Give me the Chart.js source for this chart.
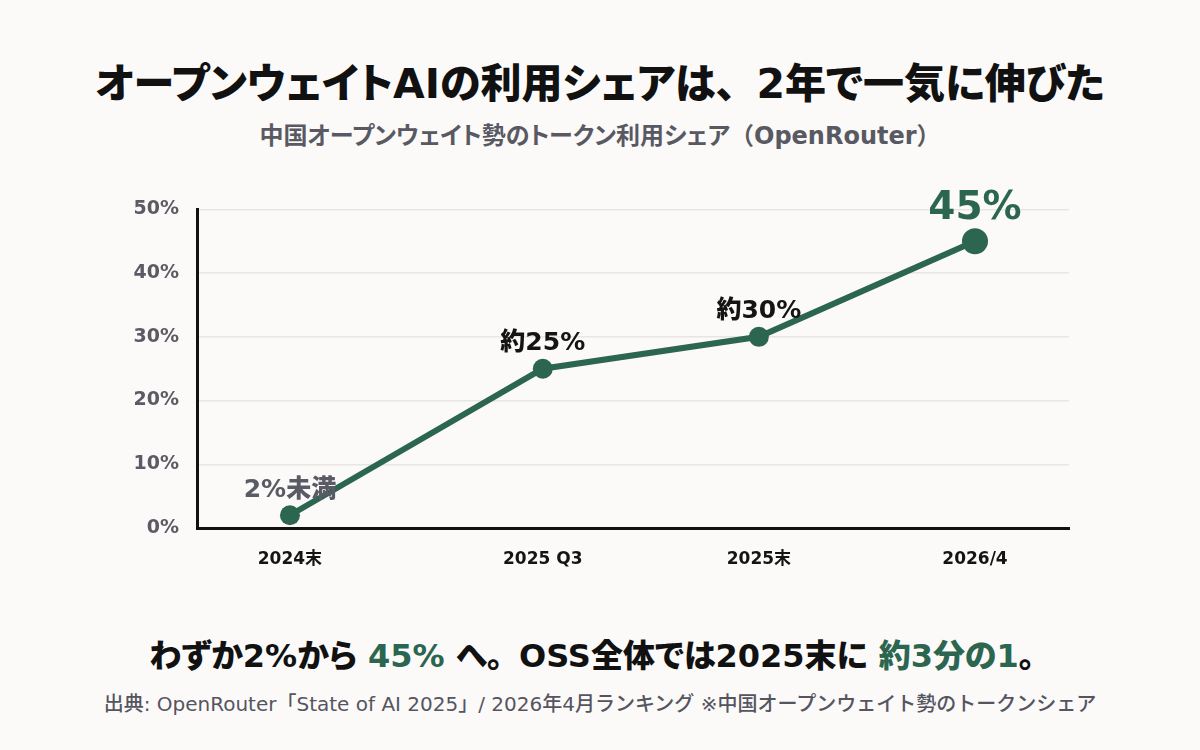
<!DOCTYPE html>
<html lang="ja">
<head>
<meta charset="utf-8">
<script src="https://cdn.jsdelivr.net/npm/chart.js@4"></script>
<style>
  html, body { margin:0; padding:0; background:#fbfaf8; }
  body { width:1200px; height:750px; position:relative; overflow:hidden;
         font-family:"DejaVu Sans","Noto Sans CJK JP",sans-serif;
         font-feature-settings:"palt"; }
  .t { position:absolute; left:0; width:1200px; text-align:center; white-space:nowrap; }
  .fw { font-feature-settings:normal; }
  #title { top:50px; font-size:41px; font-weight:900; color:#111; }
  #sub { top:116px; font-size:24px; font-weight:700; color:#595963; }
  #msg { top:630px; font-size:32px; font-weight:900; color:#111; }
  #msg .g { color:#2c6650; }
  #src { top:688px; font-size:20px; font-weight:500; color:#55555f; font-feature-settings:normal; }
  #wrap { position:absolute; left:0; top:180px; width:1200px; height:400px; }
</style>
</head>
<body>
<div class="t" id="title">オープンウェイトAIの利用シェアは<span class="fw">、</span>2年で一気に伸びた</div>
<div class="t" id="sub">中国オープンウェイト勢のトークン利用シェア<span class="fw">（</span>OpenRouter<span class="fw">）</span></div>
<div id="wrap"><canvas id="c"></canvas></div>
<div class="t" id="msg">わずか2%から <span class="g">45%</span> へ<span class="fw">。</span>OSS全体では2025末に <span class="g">約3分の1</span><span class="fw">。</span></div>
<div class="t" id="src">出典: OpenRouter「State of AI 2025」/ 2026年4月ランキング ※中国オープンウェイト勢のトークンシェア</div>
<script>
const categories = ["2024末", "2025 Q3", "2025末", "2026/4"];
const timeline = [0, 1.17, 2.17, 3.17];
const shareValues = [2, 25, 30, 45];
const pointLabels = ["2%未満", "約25%", "約30%", "45%"];
const yTicks = [0, 10, 20, 30, 40, 50];

const GREEN = "#2c6650";
const FONT = "'DejaVu Sans','Noto Sans CJK JP',sans-serif";

const labelPlugin = {
  id: "pointLabels",
  afterDatasetsDraw(chart) {
    const ctx = chart.ctx;
    const meta = chart.getDatasetMeta(0);
    ctx.save();
    ctx.textAlign = "center";
    ctx.textBaseline = "middle";
    meta.data.forEach((pt, i) => {
      const last = i === pointLabels.length - 1;
      const first = i === 0;
      if (last) {
        ctx.font = "900 39px " + FONT;
        ctx.fillStyle = GREEN;
        ctx.fillText(pointLabels[i], pt.x, pt.y - 32);
      } else {
        ctx.font = "900 25px " + FONT;
        ctx.fillStyle = first ? "#5b5b66" : "#141414";
        ctx.fillText(pointLabels[i], pt.x, pt.y - 25);
      }
    });
    ctx.restore();
  }
};

new Chart(document.getElementById("c"), {
  type: "line",
  data: {
    datasets: [{
      data: timeline.map((x, i) => ({ x: x, y: shareValues[i] })),
      borderColor: GREEN,
      backgroundColor: GREEN,
      borderWidth: 6,
      pointRadius: shareValues.map((v, i) => i === shareValues.length - 1 ? 13 : 10),
      pointBackgroundColor: GREEN,
      pointBorderWidth: 0,
      tension: 0
    }]
  },
  options: {
    responsive: true,
    maintainAspectRatio: false,
    animation: false,
    layout: { padding: { left: 0, right: 131, top: 29, bottom: 0 } },
    plugins: { legend: { display: false }, tooltip: { enabled: false } },
    scales: {
      x: {
        type: "linear",
        min: -0.43,
        max: 3.605,
        afterBuildTicks(scale) { scale.ticks = timeline.map(v => ({ value: v })); },
        afterFit(scale) { scale.height = 52; },
        grid: { display: false },
        border: { display: true, color: "#111", width: 3 },
        ticks: {
          padding: 13,
          color: "#141414",
          font: { family: FONT, size: 17, weight: "700" },
          callback(v) { const i = timeline.indexOf(v); return i >= 0 ? categories[i] : ""; }
        }
      },
      y: {
        min: 0,
        max: 50,
        afterBuildTicks(scale) { scale.ticks = yTicks.map(v => ({ value: v })); },
        afterFit(scale) { scale.width = 197; },
        grid: { color: "#e7e6e3", lineWidth: 1.5, drawTicks: false },
        border: { display: true, color: "#111", width: 3 },
        ticks: {
          padding: 18,
          color: "#5b5b66",
          font: { family: FONT, size: 19, weight: "700" },
          callback(v) { return v + "%"; }
        }
      }
    }
  },
  plugins: [labelPlugin]
});
</script>
</body>
</html>
